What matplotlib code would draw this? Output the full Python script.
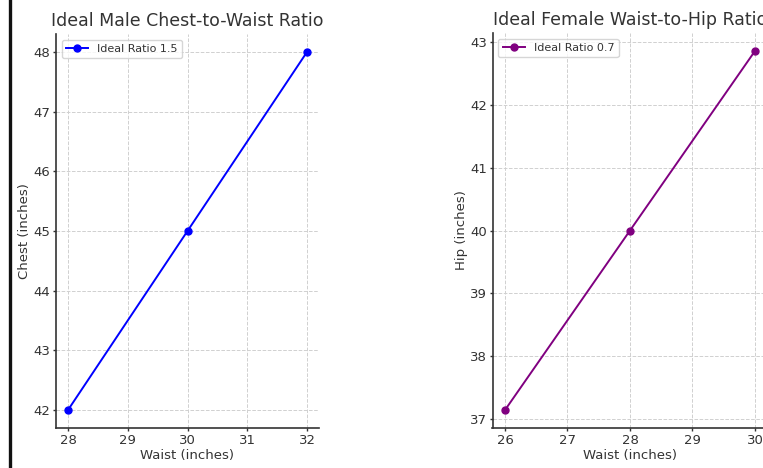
import matplotlib
matplotlib.use("Agg")
import matplotlib.pyplot as plt
from matplotlib.lines import Line2D

male_waist = [28, 30, 32]
male_chest = [42, 45, 48]
female_waist = [26, 28, 30]
female_hip = [37.142857, 40.0, 42.857143]

W, H = 763, 468
fig = plt.figure(figsize=(W / 100, H / 100), dpi=100)

txt = '#333333'
plt.rcParams['font.family'] = ['DejaVu Sans']

def px(x0, y0, x1, y1):
    return [x0 / W, 1 - y1 / H, (x1 - x0) / W, (y1 - y0) / H]

ax1 = fig.add_axes(px(56, 34, 319, 428))
ax2 = fig.add_axes(px(492.5, 33, 767.5, 428))

def style(ax):
    for s in ['top', 'right']:
        ax.spines[s].set_visible(False)
    for s in ['left', 'bottom']:
        ax.spines[s].set_color('#333333')
        ax.spines[s].set_linewidth(1.2)
    ax.grid(True, linestyle='--', color='#d0d0d0', linewidth=0.7)
    ax.tick_params(colors=txt, labelsize=9.5, direction='out', length=2.5, width=1, pad=1.5)
    for lab in ax.get_xticklabels() + ax.get_yticklabels():
        lab.set_color(txt)

ax1.plot(male_waist, male_chest, marker='o', color='blue', markersize=5, linewidth=1.4, label='Ideal Ratio 1.5')
ax1.set_title('Ideal Male Chest-to-Waist Ratio', fontsize=12.5, color=txt, pad=5.5)
ax1.set_xlabel('Waist (inches)', fontsize=9.5, color=txt, labelpad=2)
ax1.set_ylabel('Chest (inches)', fontsize=9.5, color=txt, labelpad=1.5)
ax1.legend(loc='upper left', fontsize=8, labelcolor=txt)
style(ax1)

ax2.plot(female_waist, female_hip, marker='o', color='purple', markersize=5, linewidth=1.4, label='Ideal Ratio 0.7')
ax2.set_title('Ideal Female Waist-to-Hip Ratio', fontsize=12.5, color=txt, pad=5.5)
ax2.set_xlabel('Waist (inches)', fontsize=9.5, color=txt, labelpad=2)
ax2.set_ylabel('Hip (inches)', fontsize=9.5, color=txt, labelpad=1.5)
ax2.legend(loc='upper left', fontsize=8, labelcolor=txt)
style(ax2)

fig.add_artist(Line2D([9.5 / W, 9.5 / W], [0, 1], color='#111111', linewidth=2.4, transform=fig.transFigure))

fig.savefig('out.png', dpi=100)
